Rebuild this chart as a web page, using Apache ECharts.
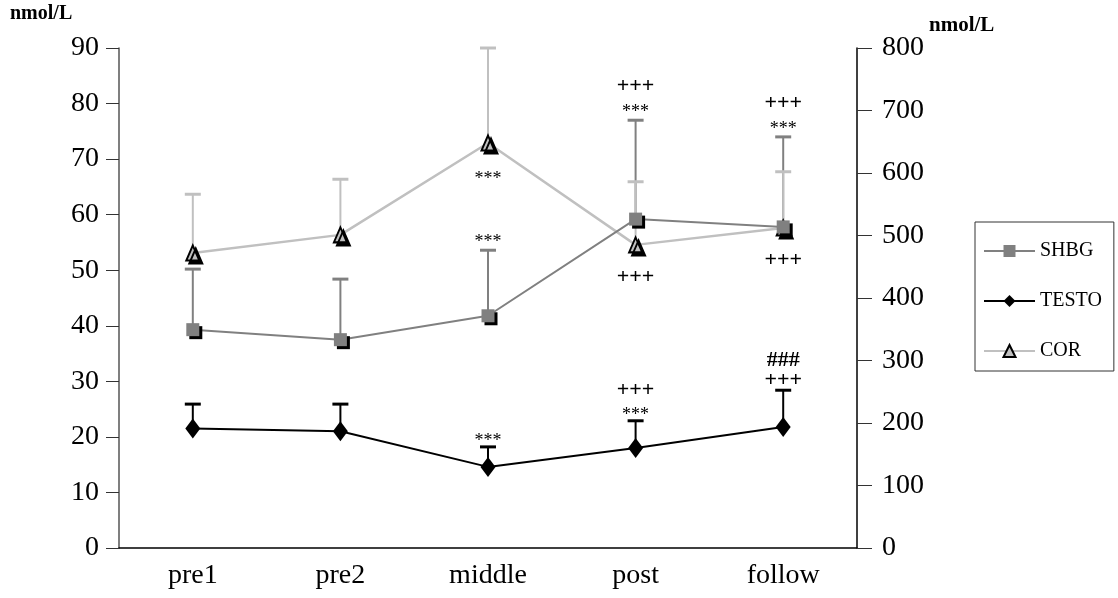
<!DOCTYPE html>
<html>
<head>
<meta charset="utf-8">
<script src="https://cdn.jsdelivr.net/npm/echarts@6/dist/echarts.min.js"></script>
<style>
  html, body { margin: 0; padding: 0; background: #fff; }
  #chart { width: 1118px; height: 598px; }
</style>
</head>
<body>
<div id="chart"></div>
<script>
const categories = ['pre1', 'pre2', 'middle', 'post', 'follow'];

// left axis (nmol/L)
const shbgMean = [39.3, 37.5, 41.8, 59.2, 57.8];
const shbgUpper = [50.2, 48.4, 53.6, 77.0, 74.0];
const testoMean = [21.5, 21.0, 14.6, 18.0, 21.8];
const testoUpper = [25.9, 25.9, 18.2, 22.9, 28.4];
// right axis (nmol/L)
const corMean = [472, 501, 648, 485, 512];
const corUpper = [566, 590, 800, 586, 602];

// significance marks, listed top to bottom
const shbgMarks = [[], [], ['***'], ['+++', '***'], ['+++', '***']];
const testoMarks = [[], [], ['***'], ['+++', '***'], ['###', '+++']];
const corMarks = [[], [], ['***'], ['+++'], ['+++']];

const leftTicks = { min: 0, max: 90, interval: 10 };
const rightTicks = { min: 0, max: 800, interval: 100 };

const serif = "'Liberation Serif', 'Times New Roman', serif";

function errorBars(name, mean, upper, axis, color) {
    return {
        type: 'custom',
        name: name,
        yAxisIndex: axis,
        z: 1,
        silent: true,
        data: mean.map((m, i) => [i, m, upper[i]]),
        renderItem: function (params, api) {
            const base = api.coord([api.value(0), api.value(1)]);
            const top = api.coord([api.value(0), api.value(2)]);
            return {
                type: 'group',
                children: [
                    { type: 'line', shape: { x1: base[0], y1: base[1], x2: top[0], y2: top[1] },
                      style: { stroke: color, lineWidth: 2 } },
                    { type: 'line', shape: { x1: top[0] - 8, y1: top[1], x2: top[0] + 8, y2: top[1] },
                      style: { stroke: color, lineWidth: 3 } }
                ]
            };
        }
    };
}

// dir = -1 stacks marks above the anchor, +1 puts them below
function sigMarks(name, marks, anchor, axis, dir, gap, step) {
    return {
        type: 'custom',
        name: name,
        yAxisIndex: axis,
        z: 5,
        silent: true,
        data: anchor.map((v, i) => [i, v]),
        renderItem: function (params, api) {
            const list = marks[params.dataIndex];
            const p = api.coord([api.value(0), api.value(1)]);
            const children = [];
            const n = list.length;
            list.forEach((txt, k) => {
                const level = dir < 0 ? (n - 1 - k) : k;
                const star = txt === '***';
                let y = p[1] + dir * (gap + level * step);
                if (star) y += 4;
                children.push({
                    type: 'text',
                    x: p[0],
                    y: y,
                    style: {
                        text: txt,
                        fill: '#000',
                        fontSize: star ? 18 : 22,
                        fontWeight: star ? 'normal' : 'bold',
                        fontFamily: serif,
                        align: 'center',
                        verticalAlign: 'middle',
                        textAlign: 'center',
                        textVerticalAlign: 'middle'
                    }
                });
            });
            return { type: 'group', children: children };
        }
    };
}

const markShadow = { shadowColor: '#000', shadowBlur: 0, shadowOffsetX: 3, shadowOffsetY: 3 };

const chart = echarts.init(document.getElementById('chart'), null, { renderer: 'canvas' });

chart.setOption({
    animation: false,
    backgroundColor: '#fff',
    textStyle: { fontFamily: serif, color: '#000' },
    grid: { left: 119, right: 261, top: 48, bottom: 50 },
    legend: {
        data: ['SHBG', 'TESTO', 'COR'],
        orient: 'vertical',
        left: 975,
        top: 222,
        padding: [19, 12, 10, 8],
        itemWidth: 51,
        itemHeight: 15,
        itemGap: 30,
        borderColor: '#333',
        borderWidth: 1,
        textStyle: { fontFamily: serif, fontSize: 20, lineHeight: 20, color: '#000' }
    },
    graphic: [
        { type: 'text', left: 10, top: 4,
          style: { text: 'nmol/L', font: 'bold 20px ' + serif, fill: '#000' } },
        { type: 'text', left: 929, top: 15,
          style: { text: 'nmol/L', font: 'bold 21px ' + serif, fill: '#000' } }
    ],
    xAxis: {
        type: 'category',
        data: categories,
        boundaryGap: true,
        axisLine: { lineStyle: { color: '#000', width: 1.5 } },
        axisTick: { alignWithLabel: true, length: 17, lineStyle: { color: '#333' } },
        axisLabel: { fontFamily: serif, fontSize: 28, color: '#000', margin: 14 },
        splitLine: { show: false }
    },
    yAxis: [
        {
            type: 'value',
            min: leftTicks.min, max: leftTicks.max, interval: leftTicks.interval,
            axisLine: { show: true, lineStyle: { color: '#555', width: 1.5 } },
            axisTick: { show: true, length: 13, lineStyle: { color: '#333' } },
            axisLabel: { fontFamily: serif, fontSize: 28, color: '#000', margin: 20 },
            splitLine: { show: false }
        },
        {
            type: 'value',
            position: 'right',
            min: rightTicks.min, max: rightTicks.max, interval: rightTicks.interval,
            axisLine: { show: true, lineStyle: { color: '#000', width: 1.5 } },
            axisTick: { show: true, length: 15, lineStyle: { color: '#333' } },
            axisLabel: { fontFamily: serif, fontSize: 28, color: '#000', margin: 25 },
            splitLine: { show: false }
        }
    ],
    series: [
        errorBars('SHBG SD', shbgMean, shbgUpper, 0, '#808080'),
        errorBars('TESTO SD', testoMean, testoUpper, 0, '#000'),
        errorBars('COR SD', corMean, corUpper, 1, '#c0c0c0'),
        {
            name: 'COR', type: 'line', yAxisIndex: 1, z: 2,
            data: corMean,
            symbol: 'triangle', symbolSize: [13, 15],
            lineStyle: { color: '#c0c0c0', width: 2.5 },
            itemStyle: Object.assign({ color: '#c0c0c0', borderColor: '#000', borderWidth: 2 }, markShadow)
        },
        {
            name: 'SHBG', type: 'line', yAxisIndex: 0, z: 3,
            data: shbgMean,
            symbol: 'rect', symbolSize: 13,
            lineStyle: { color: '#808080', width: 2 },
            itemStyle: Object.assign({ color: '#808080', borderWidth: 0 }, markShadow)
        },
        {
            name: 'TESTO', type: 'line', yAxisIndex: 0, z: 3,
            data: testoMean,
            symbol: 'diamond', symbolSize: [15, 20],
            lineStyle: { color: '#000', width: 2 },
            itemStyle: { color: '#000', borderWidth: 0 }
        },
        sigMarks('SHBG sig', shbgMarks, shbgUpper, 0, -1, 12, 22),
        sigMarks('TESTO sig', testoMarks, testoUpper, 0, -1, 10, 20),
        sigMarks('COR sig', corMarks, corMean, 1, 1, 32, 20)
    ]
});
</script>
</body>
</html>
